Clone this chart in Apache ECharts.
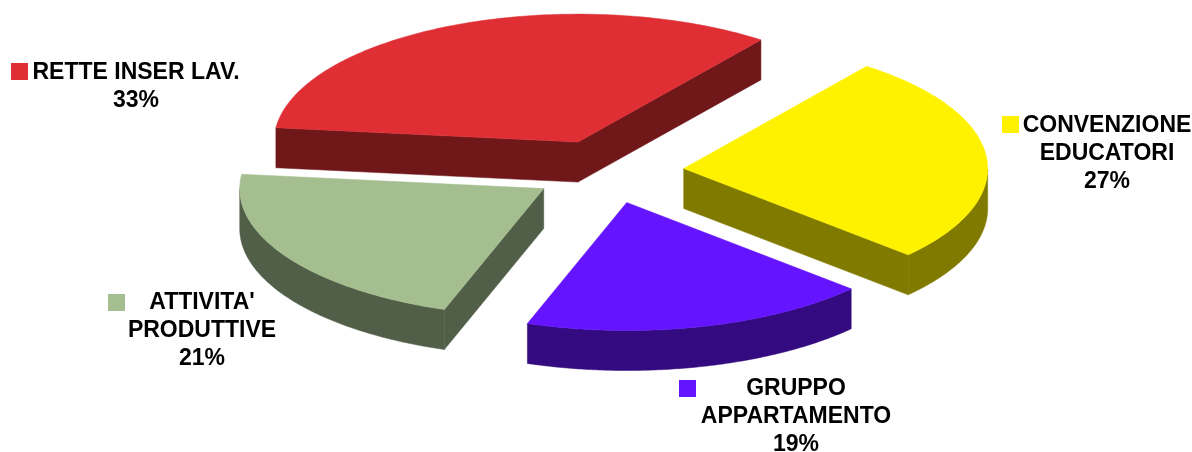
<!DOCTYPE html>
<html>
<head>
<meta charset="utf-8">
<style>
  html, body { margin: 0; padding: 0; background: #fff; }
  #main { width: 1192px; height: 452px; }
</style>
<script src="https://cdn.jsdelivr.net/npm/echarts@6/dist/echarts.min.js"></script>
</head>
<body>
<div id="main"></div>
<script>
// data, clockwise from the start angle
const categories = ['CONVENZIONE\nEDUCATORI', 'GRUPPO\nAPPARTAMENTO', "ATTIVITA'\nPRODUTTIVE", 'RETTE INSER LAV.'];
const shares = [26.5, 18.52, 21.49, 33.49];

// styles
const topColors = ['#FFF200', '#6414FF', '#A4BE90', '#DF2E34'];
const sideColors = ['#807A00', '#330A80', '#525F48', '#70171A'];

// layout
const cx = 608, cy = 171.5, rx = 304, ry = 128, depth = 40, explode = 0.25;
const startAngle = 53;
const labelBoxes = [
  { x: 1107, y: 112, keyX: 1002, keyY: 116 },
  { x: 796, y: 375, keyX: 679, keyY: 380 },
  { x: 202, y: 289, keyX: 108, keyY: 294 },
  { x: 136, y: 59, keyX: 11, keyY: 63 }
];

const total = shares.reduce((a, b) => a + b, 0);
const rad = d => d * Math.PI / 180;

function renderSlice(params, api) {
  const i = params.dataIndex;
  const before = shares.slice(0, i).reduce((a, b) => a + b, 0);
  const a0 = startAngle - before / total * 360;
  const a1 = a0 - api.value(0) / total * 360;
  const mid = (a0 + a1) / 2;
  const ox = cx + explode * rx * Math.cos(rad(mid));
  const oy = cy - explode * ry * Math.sin(rad(mid));
  const at = t => [ox + rx * Math.cos(rad(t)), oy - ry * Math.sin(rad(t))];
  const drop = p => [p[0], p[1] + depth];
  const side = pts => ({
    type: 'polygon',
    shape: { points: pts },
    style: { fill: sideColors[i], stroke: sideColors[i], lineWidth: 0.5 }
  });
  const children = [];

  // cut faces turned to the viewer
  if (Math.sin(rad(a0 + 90)) < 0) {
    children.push(side([[ox, oy], at(a0), drop(at(a0)), [ox, oy + depth]]));
  }
  if (Math.sin(rad(a1 - 90)) < 0) {
    children.push(side([[ox, oy], at(a1), drop(at(a1)), [ox, oy + depth]]));
  }

  // rim, only the part on the near half
  const rim = [];
  const top = [[ox, oy]];
  for (let t = a0; t >= a1 - 0.001; t -= (a0 - a1) / 120) {
    const p = at(t);
    top.push(p);
    if (Math.sin(rad(t)) <= 0) rim.push(p);
  }
  if (rim.length > 1) {
    children.push(side(rim.concat(rim.map(drop).reverse())));
  }

  children.push({
    type: 'polygon',
    shape: { points: top },
    style: { fill: topColors[i], stroke: topColors[i], lineWidth: 0.5 }
  });

  // legend key and label
  const box = labelBoxes[i];
  children.push({
    type: 'rect',
    shape: { x: box.keyX, y: box.keyY, width: 17, height: 17 },
    style: { fill: topColors[i] }
  });
  children.push({
    type: 'text',
    x: box.x,
    y: box.y,
    style: {
      text: categories[i] + '\n' + Math.round(api.value(0) / total * 100) + '%',
      fill: '#000',
      font: 'bold 23px "Liberation Sans", Arial, sans-serif',
      lineHeight: 27.7,
      align: 'center',
      verticalAlign: 'top'
    }
  });

  return { type: 'group', children: children };
}

const chart = echarts.init(document.getElementById('main'), null, { renderer: 'canvas' });
chart.setOption({
  animation: false,
  backgroundColor: '#fff',
  series: [{
    type: 'custom',
    coordinateSystem: 'none',
    renderItem: renderSlice,
    data: shares.map((v, i) => ({ name: categories[i], value: [v] }))
  }]
});
</script>
</body>
</html>
